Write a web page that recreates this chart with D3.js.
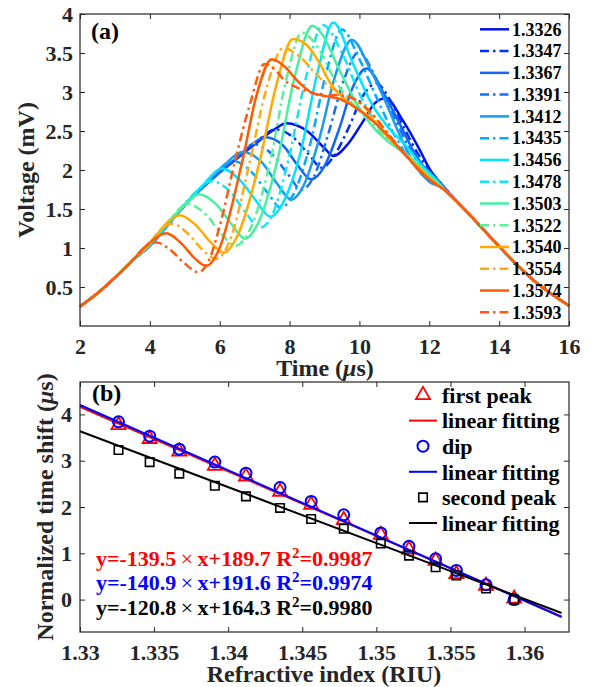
<!DOCTYPE html>
<html>
<head>
<meta charset="utf-8">
<script src="https://cdn.jsdelivr.net/npm/d3@7"></script>
<style>
  body { margin: 0; background: #fff; }
  svg { display: block; font-family: "Liberation Serif", "Times New Roman", serif; font-weight: bold; }
</style>
</head>
<body>
<svg id="chart" width="595" height="687"></svg>
<script>
// (a) voltage traces, one per refractive index
const riLabels = ["1.3326", "1.3347", "1.3367", "1.3391", "1.3412", "1.3435", "1.3456",
                  "1.3478", "1.3503", "1.3522", "1.3540", "1.3554", "1.3574", "1.3593"];
const lineColors = ["#0010e8", "#0030f5", "#1464f5", "#1470f5", "#1a9af0", "#00aaff", "#00e4ff",
                    "#14e6f0", "#46f0a0", "#5af09a", "#ffaa00", "#ffaa14", "#ff5a00", "#ff5a14"];
const dashDot = [false, true, false, true, false, true, false, true, false, true, false, true, false, true];

const riseStart = [[2, 0.25], [2.5, 0.42], [3, 0.62], [3.5, 0.84]];
const tailEnd = [[12.5, 1.72], [13, 1.5], [13.5, 1.26], [14, 1.02], [14.5, 0.79], [15, 0.58], [15.5, 0.41], [16, 0.26]];

const v13326 = [[4, 1.03], [4.5, 1.29], [5, 1.55], [5.5, 1.77], [6, 1.97], [6.5, 2.15], [7, 2.33], [7.5, 2.5], [7.92, 2.6], [8.5, 2.5], [9.0, 2.28], [9.25, 2.18], [9.7, 2.35], [10.1, 2.62], [10.45, 2.86], [10.75, 2.92], [11.25, 2.63], [11.7, 2.28], [12.0, 2.02], [12.5, 1.74]];
const v13347 = [[4, 1.03], [4.5, 1.29], [5, 1.55], [5.5, 1.77], [6, 1.97], [6.5, 2.15], [7, 2.34], [7.6, 2.52], [8.1, 2.42], [8.55, 2.2], [8.92, 2.03], [9.3, 2.2], [9.7, 2.55], [10.1, 2.95], [10.48, 3.11], [10.9, 2.88], [11.3, 2.52], [11.7, 2.19], [12.1, 1.95], [12.5, 1.74]];
const v13367 = [[4, 1.03], [4.5, 1.29], [5, 1.55], [5.5, 1.77], [6, 1.97], [6.5, 2.16], [6.9, 2.32], [7.3, 2.42], [7.8, 2.32], [8.2, 2.08], [8.62, 1.88], [9.0, 2.05], [9.4, 2.5], [9.8, 3.05], [10.2, 3.3], [10.7, 2.98], [11.2, 2.55], [11.6, 2.2], [12.0, 1.95]];
const v13391 = [[4, 1.03], [4.5, 1.29], [5, 1.55], [5.5, 1.77], [6, 1.97], [6.5, 2.17], [6.97, 2.33], [7.5, 2.2], [7.95, 1.95], [8.34, 1.75], [8.7, 1.92], [9.1, 2.45], [9.55, 3.15], [9.98, 3.51], [10.5, 3.15], [11.0, 2.68], [11.4, 2.3], [11.8, 2.02], [12.2, 1.86]];
const v13412 = [[4, 1.03], [4.5, 1.29], [5, 1.55], [5.5, 1.78], [6.1, 2.05], [6.65, 2.23], [7.2, 2.1], [7.65, 1.82], [8.05, 1.62], [8.4, 1.8], [8.85, 2.4], [9.3, 3.2], [9.78, 3.67], [10.3, 3.3], [10.8, 2.82], [11.2, 2.4], [11.6, 2.05], [12.0, 1.85], [12.4, 1.76]];
const v13435 = [[4, 1.04], [4.5, 1.3], [5, 1.56], [5.5, 1.79], [5.9, 1.97], [6.35, 2.12], [6.9, 1.98], [7.35, 1.72], [7.75, 1.52], [8.1, 1.68], [8.6, 2.35], [9.05, 3.25], [9.5, 3.8], [10.0, 3.42], [10.5, 2.92], [11.0, 2.45], [11.4, 2.16], [11.8, 1.95], [12.2, 1.83]];
const v13456 = [[4, 1.04], [4.5, 1.3], [5, 1.56], [5.55, 1.82], [6.05, 2.02], [6.6, 1.86], [7.05, 1.6], [7.45, 1.4], [7.8, 1.57], [8.3, 2.2], [8.8, 3.25], [9.25, 3.89], [9.82, 3.36], [10.3, 2.89], [10.78, 2.57], [11.35, 2.3], [11.8, 2.05], [12.2, 1.88]];
const v13478 = [[4, 1.04], [4.5, 1.31], [5, 1.57], [5.35, 1.73], [5.75, 1.86], [6.3, 1.72], [6.75, 1.45], [7.15, 1.26], [7.5, 1.42], [7.96, 2.12], [8.45, 3.15], [8.95, 3.86], [9.5, 3.5], [10.0, 2.98], [10.5, 2.58], [11.0, 2.32], [11.5, 2.13], [12.0, 1.93]];
const v13503 = [[4, 1.05], [4.5, 1.32], [5, 1.55], [5.4, 1.69], [5.9, 1.56], [6.35, 1.3], [6.72, 1.12], [7.1, 1.32], [7.65, 2.12], [8.15, 3.2], [8.65, 3.85], [8.9, 3.76], [9.44, 3.27], [9.92, 2.85], [10.3, 2.6], [10.78, 2.38], [11.35, 2.2], [12.0, 1.93]];
const v13522 = [[4, 1.06], [4.5, 1.33], [5.1, 1.56], [5.6, 1.43], [6.05, 1.18], [6.45, 1.03], [6.85, 1.22], [7.45, 2.12], [7.9, 3.15], [8.35, 3.76], [8.8, 3.58], [9.3, 3.15], [9.8, 2.85], [10.3, 2.62], [10.8, 2.4], [11.3, 2.2], [12.0, 1.92]];
const v13540 = [[4, 1.06], [4.45, 1.3], [4.85, 1.42], [5.3, 1.3], [5.75, 1.07], [6.12, 0.94], [6.5, 1.15], [7.15, 2.12], [7.6, 3.05], [8.1, 3.68], [8.5, 3.6], [8.87, 3.36], [9.16, 3.12], [9.44, 2.97], [9.82, 2.82], [10.3, 2.68], [10.78, 2.44], [11.3, 2.2], [12.0, 1.9]];
const v13554 = [[4, 1.07], [4.3, 1.23], [4.65, 1.31], [5.1, 1.18], [5.5, 0.98], [5.9, 0.86], [6.25, 1.05], [6.87, 2.12], [7.3, 2.98], [7.82, 3.56], [8.3, 3.45], [8.68, 3.27], [9.01, 3.12], [9.25, 3.04], [9.82, 2.91], [10.3, 2.74], [10.8, 2.47], [11.3, 2.2], [12.0, 1.89]];
const v13574 = [[4, 1.07], [4.47, 1.19], [4.9, 1.06], [5.3, 0.86], [5.62, 0.77], [5.95, 0.95], [6.65, 2.12], [7.05, 2.95], [7.49, 3.42], [7.85, 3.33], [8.25, 3.13], [8.6, 3.0], [9.0, 2.95], [9.44, 2.91], [9.82, 2.82], [10.3, 2.66], [10.8, 2.45], [11.3, 2.2], [12.0, 1.88]];
const v13593 = [[3.9, 1.03], [4.19, 1.07], [4.6, 0.97], [5.0, 0.8], [5.39, 0.69], [5.7, 0.85], [6.0, 1.28], [6.44, 2.12], [6.87, 2.85], [7.28, 3.36], [7.6, 3.28], [7.85, 3.15], [8.2, 3.06], [8.5, 3.01], [9.0, 2.95], [9.3, 2.96], [9.75, 2.93], [10.3, 2.75], [10.8, 2.48], [11.3, 2.2], [12.0, 1.88]];

const traces = [v13326, v13347, v13367, v13391, v13412, v13435, v13456,
                v13478, v13503, v13522, v13540, v13554, v13574, v13593];

const timeTicks = [2, 4, 6, 8, 10, 12, 14, 16];
const voltTicks = [0.5, 1, 1.5, 2, 2.5, 3, 3.5, 4];

// (b) time shifts against refractive index
const riValues = [1.3326, 1.3347, 1.3367, 1.3391, 1.3412, 1.3435, 1.3456,
                  1.3478, 1.3503, 1.3522, 1.3540, 1.3554, 1.3574, 1.3593];
const firstPeakShift = [3.77, 3.47, 3.20, 2.89, 2.66, 2.33, 2.05, 1.72, 1.40, 1.08, 0.84, 0.55, 0.30, 0.02];
const dipShift = [3.84, 3.53, 3.25, 2.97, 2.73, 2.42, 2.12, 1.83, 1.44, 1.15, 0.88, 0.63, 0.32, 0.0];
const secondPeakShift = [3.23, 2.97, 2.72, 2.46, 2.23, 1.98, 1.74, 1.53, 1.21, 0.95, 0.70, 0.52, 0.24, 0.0];

const fitSlopes = [-139.5, -140.9, -120.8];
const fitIntercepts = [189.7, 191.6, 164.3];
const fitR2 = ["0.9987", "0.9974", "0.9980"];
const fitRange = [1.33, 1.3625];

const riTicks = [1.33, 1.335, 1.34, 1.345, 1.35, 1.355, 1.36];
const shiftTicks = [0, 1, 2, 3, 4];

const svg = d3.select("#chart");
const axisColor = "#262626";

const xA = d3.scaleLinear().domain([2, 16]).range([80, 569]);
const yA = d3.scaleLinear().domain([0, 4]).range([326, 14]);
const xB = d3.scaleLinear().domain([1.33, 1.363]).range([80, 569]);
const yB = d3.scaleLinear().domain([-0.7, 4.7]).range([632, 382]);

function styleAxis(g, size) {
    g.attr("font-family", null).attr("font-size", null);
    g.select(".domain").remove();
    g.selectAll("line").attr("stroke", axisColor).attr("stroke-width", 1);
    g.selectAll("text").attr("fill", axisColor)
        .style("font-size", size + "px").style("font-weight", "bold");
}

// box with inward ticks on all four sides
function drawFrame(x, y, xt, yt, padX, padY) {
    const [x0, x1] = x.range();
    const [y0, y1] = y.range();
    const fmt = d => String(d);
    const g = svg.append("g");
    g.append("g").attr("transform", `translate(0,${y0})`)
        .call(d3.axisBottom(x).tickValues(xt).tickSize(-5).tickPadding(padX).tickFormat(fmt))
        .call(a => styleAxis(a, 22));
    g.append("g").attr("transform", `translate(0,${y1})`)
        .call(d3.axisTop(x).tickValues(xt).tickSize(-5).tickFormat(""))
        .call(a => styleAxis(a, 22));
    g.append("g").attr("transform", `translate(${x0},0)`)
        .call(d3.axisLeft(y).tickValues(yt).tickSize(-5).tickPadding(padY).tickFormat(fmt))
        .call(a => styleAxis(a, 22));
    g.append("g").attr("transform", `translate(${x1},0)`)
        .call(d3.axisRight(y).tickValues(yt).tickSize(-5).tickFormat(""))
        .call(a => styleAxis(a, 22));
    g.append("rect")
        .attr("x", x0).attr("y", y1)
        .attr("width", x1 - x0).attr("height", y0 - y1)
        .attr("fill", "none").attr("stroke", axisColor).attr("stroke-width", 1.2);
}

// ---------- panel (a) ----------
const lineA = d3.line()
    .x(d => xA(d[0]))
    .y(d => yA(d[1]))
    .curve(d3.curveMonotoneX);

svg.append("g").selectAll("path")
    .data(traces)
    .join("path")
    .attr("d", d => lineA(riseStart.filter(p => p[0] < d[0][0]).concat(d, tailEnd.filter(p => p[0] > d[d.length - 1][0]))))
    .attr("fill", "none")
    .attr("stroke", (d, i) => lineColors[i])
    .attr("stroke-width", 2.5)
    .attr("stroke-dasharray", (d, i) => dashDot[i] ? "9,4,2.5,4" : null);

drawFrame(xA, yA, timeTicks, voltTicks, 12, 7);

const legA = svg.append("g").selectAll("g")
    .data(riLabels)
    .join("g")
    .attr("transform", (d, i) => `translate(480,${29.3 + i * 21.77})`);
legA.append("line")
    .attr("x1", 0).attr("x2", 29)
    .attr("stroke", (d, i) => lineColors[i])
    .attr("stroke-width", 2.5)
    .attr("stroke-dasharray", (d, i) => dashDot[i] ? "9,4,2.5,4" : null);
legA.append("text")
    .attr("x", 32).attr("dy", "0.35em")
    .style("font-size", "18px")
    .text(d => d);

svg.append("text").attr("x", 91).attr("y", 39).style("font-size", "24px").text("(a)");

svg.append("text")
    .attr("x", 325).attr("y", 376)
    .attr("text-anchor", "middle").attr("fill", axisColor)
    .style("font-size", "24px")
    .call(t => {
        t.append("tspan").text("Time (");
        t.append("tspan").style("font-style", "italic").text("\u03bc");
        t.append("tspan").text("s)");
    });

svg.append("text")
    .attr("transform", "translate(34,170) rotate(-90)")
    .attr("text-anchor", "middle").attr("fill", axisColor)
    .style("font-size", "24px")
    .text("Voltage (mV)");

// ---------- panel (b) ----------
const fitColors = ["#ff0000", "#0000ff", "#000000"];
const markerSeries = [firstPeakShift, dipShift, secondPeakShift];
const markerTypes = [d3.symbolTriangle, d3.symbolCircle, d3.symbolSquare];
const markerSizes = [85, 95, 72];
const markerWidths = [1.8, 2, 1.6];

const plotB = svg.append("g");
markerSeries.forEach((series, k) => {
    plotB.append("g").selectAll("path")
        .data(series)
        .join("path")
        .attr("transform", (d, i) => `translate(${xB(riValues[i])},${yB(d)})`)
        .attr("d", d3.symbol(markerTypes[k], markerSizes[k]))
        .attr("fill", "none")
        .attr("stroke", fitColors[k])
        .attr("stroke-width", markerWidths[k]);
    plotB.append("line")
        .attr("x1", xB(fitRange[0])).attr("y1", yB(fitSlopes[k] * fitRange[0] + fitIntercepts[k]))
        .attr("x2", xB(fitRange[1])).attr("y2", yB(fitSlopes[k] * fitRange[1] + fitIntercepts[k]))
        .attr("stroke", fitColors[k])
        .attr("stroke-width", 2);
});

drawFrame(xB, yB, riTicks, shiftTicks, 12, 8);

// legend (b)
const legBLabels = ["first peak", "linear fitting", "dip", "linear fitting", "second peak", "linear fitting"];
const legB = svg.append("g").selectAll("g")
    .data(legBLabels)
    .join("g")
    .attr("transform", (d, i) => `translate(423,${395 + i * 25.6})`);
legB.each(function (d, i) {
    const g = d3.select(this);
    const k = Math.floor(i / 2);
    if (i % 2 === 0) {
        g.append("path")
            .attr("d", d3.symbol(markerTypes[k], markerSizes[k]))
            .attr("fill", "none").attr("stroke", fitColors[k]).attr("stroke-width", markerWidths[k]);
    } else {
        g.append("line").attr("x1", -14).attr("x2", 14)
            .attr("stroke", fitColors[k]).attr("stroke-width", 2);
    }
    g.append("text").attr("x", 19).attr("dy", "0.35em")
        .style("font-size", "22px").text(d);
});

// fit equations
fitSlopes.forEach((s, k) => {
    svg.append("text")
        .attr("x", 96).attr("y", 558 + k * 24.5).attr("dy", "0.35em")
        .attr("fill", fitColors[k])
        .style("font-size", "22px")
        .call(t => {
            t.append("tspan").text(`y=${s}`);
            t.append("tspan").style("font-weight", "normal").text("\u2009\u00d7\u2009");
            t.append("tspan").text(`x+${fitIntercepts[k]} R`);
            t.append("tspan").attr("dy", -8).style("font-size", "15px").text("2");
            t.append("tspan").attr("dy", 8).text(`=${fitR2[k]}`);
        });
});

svg.append("text").attr("x", 92).attr("y", 401).style("font-size", "24px").text("(b)");

svg.append("text")
    .attr("x", 324).attr("y", 682)
    .attr("text-anchor", "middle").attr("fill", axisColor)
    .style("font-size", "24px")
    .text("Refractive index (RIU)");

svg.append("text")
    .attr("transform", "translate(53,507) rotate(-90)")
    .attr("text-anchor", "middle").attr("fill", axisColor)
    .style("font-size", "24px")
    .call(t => {
        t.append("tspan").text("Normalized time shift (");
        t.append("tspan").style("font-style", "italic").text("\u03bc");
        t.append("tspan").text("s)");
    });
</script>
</body>
</html>
